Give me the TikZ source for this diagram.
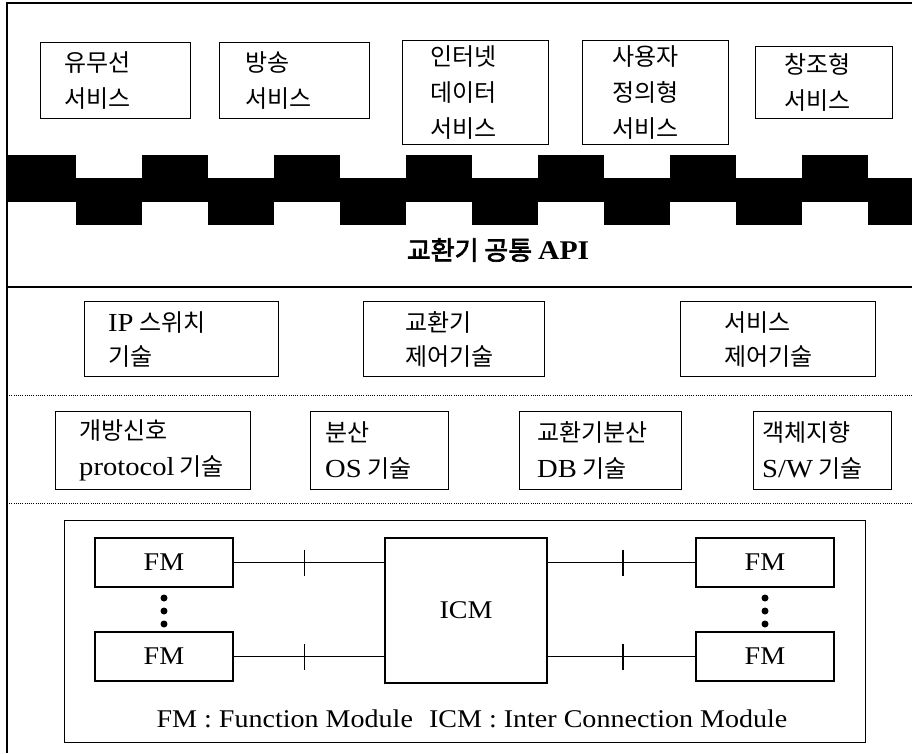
\documentclass[tikz,border=0pt]{standalone}
\usepackage{fontspec}
\setmainfont{Liberation Serif}[FakeStretch=1.1]
\newfontfamily\kr{Noto Sans CJK KR}
\newfontfamily\krb{Noto Sans CJK KR}[FakeBold=2.5]
\newcommand\lt[1]{{\rmfamily\fontsize{26}{36}\selectfont #1}}
\tikzset{
  frameline/.style={line width=1.4pt},
  box/.style={draw, line width=1.2pt, inner sep=0pt, anchor=north west},
  txt/.style={inner sep=0pt, anchor=west, align=left, font=\kr\fontsize{24}{36}\selectfont},
  txtb/.style={txt, font=\kr\fontsize{24}{34}\selectfont},
  sepline/.style={line width=0.9pt, dash pattern=on 0.9pt off 1.3pt},
  lat/.style={font=\fontsize{25.5}{30}\selectfont},
  fm/.style={draw, line width=1.2pt, minimum width=138pt, minimum height=49pt, inner sep=0pt, lat},
  link/.style={line width=1.1pt},
}
\begin{document}
\begin{tikzpicture}[x=1pt,y=-1pt]
\useasboundingbox (0,0) rectangle (912,753);
\begin{scope}
\clip (0,0) rectangle (912,753);
% outer frame
\draw[frameline] (912,3) -- (7,3) -- (7,753);
% row 1
\node[box, minimum width=150pt, minimum height=76pt] (s1) at (40,42) {};
\node[txt] (s1t) at ([xshift=24pt]s1.west) {유무선\\서비스};
\node[box, minimum width=150pt, minimum height=76pt] (s2) at (219,42) {};
\node[txt] (s2t) at ([xshift=26pt]s2.west) {방송\\서비스};
\node[box, minimum width=146pt, minimum height=104pt] (s3) at (402,40) {};
\node[txt] (s3t) at ([xshift=28pt]s3.west) {인터넷\\데이터\\서비스};
\node[box, minimum width=146pt, minimum height=104pt] (s4) at (582,40) {};
\node[txt] (s4t) at ([xshift=30pt]s4.west) {사용자\\정의형\\서비스};
\node[box, minimum width=137pt, minimum height=72pt] (s5) at (755,46) {};
\node[txt] (s5t) at ([xshift=29pt]s5.west) {창조형\\서비스};
% black band
\fill (7,178) rectangle (912,202);
\fill (7,155) rectangle (10,202);
\foreach \k in {0,...,6} {
  \fill ({10+132*\k},155) rectangle ({76+132*\k},202);
  \fill ({76+132*\k},178) rectangle ({142+132*\k},225);
}
% API title
\node[inner sep=0pt, font=\krb\fontsize{26}{30}\selectfont] (api) at (498,250) {교환기 공통 {\rmfamily\bfseries\fontsize{27}{30}\selectfont API}};
\draw[line width=1.2pt] (7,287) -- (912,287);
% row 2
\node[box, minimum width=194pt, minimum height=75pt] (t1) at (84,301) {};
\node[txtb] (t1t) at ([xshift=24pt]t1.west) {\lt{IP} 스위치\\기술};
\node[box, minimum width=181pt, minimum height=75pt] (t2) at (363,301) {};
\node[txtb] (t2t) at ([xshift=42pt]t2.west) {교환기\\제어기술};
\node[box, minimum width=195pt, minimum height=75pt] (t3) at (680,301) {};
\node[txtb] (t3t) at ([xshift=44pt]t3.west) {서비스\\제어기술};
\draw[sepline] (7,395) -- (912,395);
% row 3
\node[box, minimum width=195pt, minimum height=78pt] (u1) at (55,411) {};
\node[txt] (u1t) at ([xshift=24pt]u1.west) {개방신호\\\lt{protocol} 기술};
\node[box, minimum width=138pt, minimum height=78pt] (u2) at (310,411) {};
\node[txt] (u2t) at ([xshift=15pt]u2.west) {분산\\\lt{OS} 기술};
\node[box, minimum width=162pt, minimum height=78pt] (u3) at (519,411) {};
\node[txt] (u3t) at ([xshift=18pt]u3.west) {교환기분산\\\lt{DB} 기술};
\node[box, minimum width=138pt, minimum height=78pt] (u4) at (753,411) {};
\node[txt] (u4t) at ([xshift=9pt]u4.west) {객체지향\\\lt{S/W} 기술};
\draw[sepline] (7,503) -- (912,503);
% bottom module diagram
\node[box, minimum width=801pt, minimum height=222pt] (mod) at (64,520) {};
\node[fm] (fl1) at (164,562.5) {FM};
\node[fm] (fl2) at (164,656.5) {FM};
\node[fm] (fr1) at (765,562.5) {FM};
\node[fm] (fr2) at (765,656.5) {FM};
\node[draw, line width=1.2pt, minimum width=162pt, minimum height=145pt, inner sep=0pt, lat] (icm) at (466,610.5) {ICM};
\draw[link] (fl1.east) -- (fl1.east -| icm.west) coordinate[pos=0.47] (k1);
\draw[link] (fl2.east) -- (fl2.east -| icm.west) coordinate[pos=0.47] (k2);
\draw[link] (fr1.west) -- (fr1.west -| icm.east) coordinate[pos=0.49] (k3);
\draw[link] (fr2.west) -- (fr2.west -| icm.east) coordinate[pos=0.49] (k4);
\foreach \c in {k1,k2,k3,k4} {
  \draw[link] ([yshift=13pt]\c) -- ([yshift=-13pt]\c);
}
\foreach \yy in {598,611,624} {
  \fill (164,\yy) circle (3.5pt);
  \fill (765,\yy) circle (3.5pt);
}
\node[lat, anchor=base, inner sep=0pt] (cap) at (472,727) {FM : Function Module\hspace{16pt}ICM : Inter Connection Module};
\end{scope}
\end{tikzpicture}
\end{document}
